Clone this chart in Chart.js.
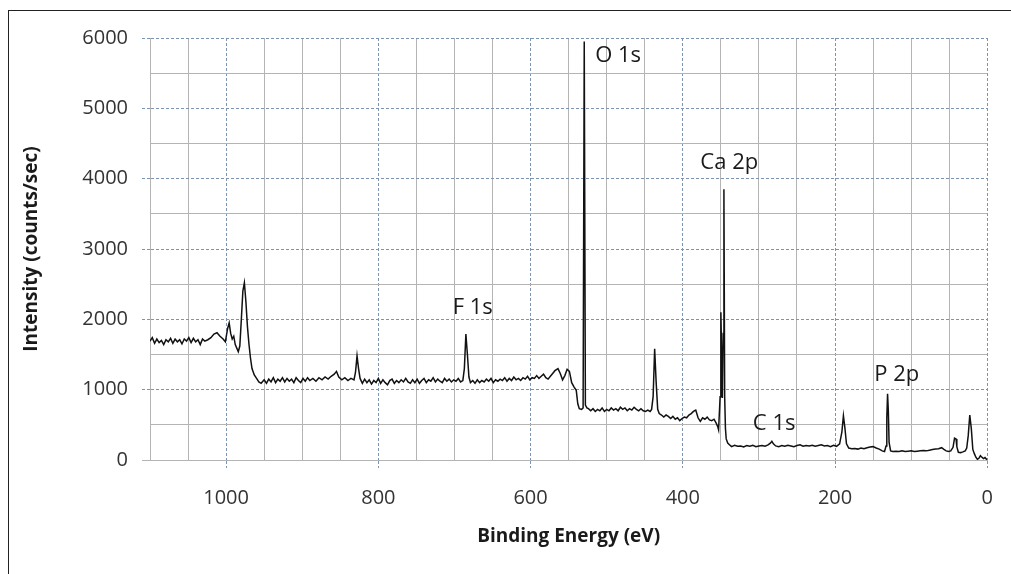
<!DOCTYPE html>
<html>
<head>
<meta charset="utf-8">
<script src="https://cdn.jsdelivr.net/npm/chart.js@4.4.1/dist/chart.umd.min.js"></script>
<style>
  html, body { margin: 0; padding: 0; background: #fff; overflow: hidden; }
  #frame { position: absolute; left: 8px; top: 10px; width: 1100px; height: 700px;
           border-left: 1px solid #222; border-top: 1px solid #222; }
  #wrap { position: absolute; left: 0; top: 0; width: 1011px; height: 574px; }
</style>
</head>
<body>
<div id="frame"></div>
<div id="wrap"><canvas id="xpsChart"></canvas></div>
<script>
// XPS survey spectrum, [binding energy (eV), intensity (counts/sec)]
const highEnergyRegion = [
  [1100, 1690], [1097, 1740], [1094, 1660], [1091, 1720], [1088, 1670], [1085, 1700],
  [1082, 1640], [1079, 1710], [1076, 1680], [1073, 1730], [1070, 1660], [1067, 1720],
  [1064, 1680], [1061, 1710], [1058, 1650], [1055, 1720], [1052, 1690], [1049, 1740],
  [1046, 1670], [1043, 1730], [1040, 1680], [1037, 1710], [1034, 1640], [1031, 1720],
  [1028, 1690], [1024, 1710], [1020, 1740], [1016, 1790], [1012, 1810], [1008, 1760],
  [1004, 1720], [1001, 1680], [998, 1870], [996, 1950], [994, 1800], [992, 1720],
  [990, 1760], [988, 1640], [986, 1590], [984, 1540], [982, 1620], [980, 2000],
  [978, 2400], [976, 2520], [974, 2250], [972, 1900], [970, 1650], [968, 1450],
  [966, 1300], [963, 1210], [960, 1160], [957, 1110], [954, 1090]
];

const fluorineRegion = [
  [950, 1140], [947, 1090], [944, 1150], [941, 1110], [938, 1170], [935, 1100],
  [932, 1150], [929, 1120], [926, 1170], [923, 1110], [920, 1160], [917, 1120],
  [914, 1150], [911, 1100], [908, 1170], [905, 1130], [902, 1100], [899, 1160],
  [896, 1120], [893, 1170], [890, 1130], [886, 1160], [882, 1120], [878, 1170],
  [874, 1140], [870, 1180], [866, 1150], [862, 1190], [858, 1220], [855, 1260],
  [852, 1180], [848, 1140], [844, 1170], [840, 1130], [836, 1160], [832, 1140],
  [830, 1250], [828, 1480], [826, 1300], [824, 1160], [821, 1090], [818, 1150],
  [815, 1100], [812, 1140], [809, 1080], [806, 1130], [803, 1100], [800, 1160],
  [797, 1090], [794, 1140], [791, 1100], [788, 1070], [785, 1130], [782, 1150],
  [779, 1090], [776, 1130], [773, 1100], [770, 1140], [767, 1110], [764, 1160],
  [761, 1110], [758, 1090], [755, 1140], [752, 1100], [749, 1150], [746, 1090],
  [743, 1130], [740, 1160], [737, 1100], [734, 1140], [731, 1120], [728, 1170],
  [725, 1110], [722, 1150], [719, 1120], [716, 1100], [713, 1160], [710, 1120],
  [707, 1150], [704, 1110], [701, 1140], [698, 1120], [695, 1160], [692, 1110],
  [689, 1130], [687, 1300], [685, 1790], [683, 1500], [681, 1180], [679, 1100],
  [676, 1130]
];

const oxygenRegion = [
  [673, 1090], [670, 1140], [667, 1100], [664, 1130], [661, 1110], [658, 1150],
  [655, 1120], [652, 1160], [649, 1100], [646, 1140], [643, 1120], [640, 1150],
  [637, 1130], [634, 1170], [631, 1120], [628, 1160], [625, 1130], [622, 1180],
  [619, 1140], [616, 1160], [613, 1130], [610, 1170], [607, 1150], [604, 1190],
  [601, 1140], [598, 1170], [595, 1160], [592, 1200], [589, 1160], [586, 1190],
  [583, 1220], [580, 1170], [577, 1150], [574, 1190], [571, 1230], [568, 1270],
  [564, 1300], [561, 1230], [558, 1140], [555, 1200], [552, 1290], [549, 1260],
  [546, 1100], [543, 1040], [540, 990], [538, 800], [536, 730], [533, 720],
  [531, 740], [529.5, 5950], [528, 780], [526, 740], [524, 730],
  [521, 700], [518, 730], [515, 690], [512, 720], [509, 700], [506, 740],
  [503, 690], [500, 720], [497, 700], [494, 740], [491, 710], [488, 730],
  [485, 700], [482, 750], [479, 720], [476, 740], [473, 700], [470, 730],
  [467, 710], [464, 750], [461, 720], [458, 700], [455, 730], [452, 700],
  [449, 690], [446, 710], [443, 690], [441, 720]
];

const calciumRegion = [
  [439, 900], [437, 1580], [435, 1100], [433, 720], [431, 660], [428, 640],
  [425, 610], [422, 640], [419, 620], [416, 590], [413, 620], [410, 580],
  [407, 600], [404, 560], [401, 590], [398, 610], [395, 600], [392, 640],
  [389, 660], [386, 690], [383, 710], [380, 600], [377, 550], [374, 600],
  [371, 580], [368, 610], [365, 570], [362, 560], [359, 580], [356, 520],
  [354, 470], [353, 430], [351, 900], [350, 2100], [349, 1500], [348, 880],
  [347, 1800], [346, 3850], [345, 900], [344, 450], [343, 300], [341, 240],
  [338, 210]
];

const lowEnergyRegion = [
  [336, 190], [332, 210], [328, 195], [324, 200], [320, 185], [316, 205],
  [312, 195], [308, 210], [304, 190], [300, 200], [296, 205], [292, 195],
  [288, 215], [285, 240], [283, 265], [281, 230], [278, 200], [274, 190],
  [270, 205], [266, 195], [262, 210], [258, 200], [254, 190], [250, 205],
  [246, 215], [242, 195], [238, 205], [234, 200], [230, 210], [226, 195],
  [222, 205], [218, 215], [214, 200], [210, 205], [206, 190], [202, 210],
  [198, 195], [194, 230], [191, 400], [189, 630], [187, 450], [185, 230],
  [182, 170], [178, 160], [174, 165], [170, 155], [166, 170], [162, 160],
  [158, 175], [154, 185], [150, 190], [146, 170], [142, 155], [138, 130],
  [135, 120], [133, 200], [132, 600], [131, 940], [130, 700], [129, 250],
  [127, 130], [124, 120], [120, 125], [116, 120], [112, 130], [108, 120],
  [104, 125], [100, 130], [96, 120], [92, 125], [88, 130], [84, 135],
  [80, 130], [76, 140], [72, 150], [68, 155], [64, 160], [60, 175],
  [57, 150], [54, 130], [51, 120], [48, 130], [45, 180], [43, 310],
  [41, 300], [40, 190], [38, 110], [35, 105], [32, 115], [29, 130],
  [27, 170], [25, 350], [23, 640], [21, 450], [19, 150], [17, 90],
  [15, 40], [13, 10], [11, 25], [9, 60], [7, 40], [5, 20],
  [3, 35], [1, 10], [0, 5]
];

// peak labels placed in data coordinates
const peakLabels = ['O 1s', 'Ca 2p', 'F 1s', 'C 1s', 'P 2p'];
const labelEnergy = [485, 339, 676, 280, 119];
const labelCounts = [5745, 4220, 2160, 520, 1215];

const xTicksEvery = 200;
const yTicksEvery = 1000;

const spectrum = [].concat(highEnergyRegion, fluorineRegion, oxygenRegion, calciumRegion, lowEnergyRegion)
  .map(p => ({ x: p[0], y: p[1] }));

const FONT = "'Open Sans', 'DejaVu Sans', sans-serif";
const MAJOR = '#7d93b2';
const MINOR = '#b4b4b4';

function isMajor(ctx, every) {
  return ctx.tick && ctx.tick.value % every === 0;
}

const peakLabelPlugin = {
  id: 'peakLabels',
  afterDatasetsDraw(chart) {
    const c = chart.ctx;
    const xs = chart.scales.x, ys = chart.scales.y;
    c.save();
    c.font = "22px " + FONT;
    c.fillStyle = '#1a1a1a';
    c.textAlign = 'center';
    c.textBaseline = 'middle';
    peakLabels.forEach((t, i) => {
      c.fillText(t, xs.getPixelForValue(labelEnergy[i]), ys.getPixelForValue(labelCounts[i]));
    });
    c.restore();
  }
};

new Chart(document.getElementById('xpsChart'), {
  type: 'line',
  data: {
    datasets: [{
      label: 'Survey',
      data: spectrum,
      borderColor: '#111',
      borderWidth: 1.5,
      pointRadius: 0,
      tension: 0,
      fill: false
    }]
  },
  options: {
    responsive: true,
    maintainAspectRatio: false,
    animation: false,
    layout: { padding: { top: 38, right: 23, left: 0, bottom: 0 } },
    plugins: {
      legend: { display: false },
      tooltip: { enabled: false }
    },
    scales: {
      x: {
        type: 'linear',
        reverse: true,
        min: 0,
        max: 1100,
        afterFit: function(scale) { scale.height = 114; },
        ticks: {
          stepSize: 50,
          autoSkip: false,
          maxRotation: 0,
          padding: 18,
          color: '#333',
          font: { family: FONT, size: 20 },
          callback: function(v) { return v % xTicksEvery === 0 ? String(v) : ''; }
        },
        grid: {
          lineWidth: 1,
          tickLength: 8,
          color: ctx => isMajor(ctx, xTicksEvery) ? MAJOR : MINOR,
          tickColor: ctx => isMajor(ctx, xTicksEvery) ? MAJOR : 'rgba(0,0,0,0)',
          tickBorderDash: ctx => isMajor(ctx, xTicksEvery) ? [3, 2] : []
        },
        border: {
          display: true,
          color: MINOR,
          width: 1,
          dash: ctx => isMajor(ctx, xTicksEvery) ? [3, 2] : []
        },
        title: {
          display: true,
          text: 'Binding Energy (eV)',
          color: '#1a1a1a',
          font: { family: FONT, size: 19, weight: 'bold' },
          padding: { top: 0, bottom: 26 }
        }
      },
      y: {
        min: 0,
        max: 6000,
        afterFit: function(scale) { scale.width = 150; },
        ticks: {
          stepSize: 500,
          autoSkip: false,
          padding: 14,
          color: '#333',
          font: { family: FONT, size: 20 },
          callback: function(v) { return v % yTicksEvery === 0 ? String(v) : ''; }
        },
        grid: {
          lineWidth: 1,
          tickLength: 8,
          color: ctx => (isMajor(ctx, yTicksEvery) && ctx.tick.value !== 0) ? MAJOR : MINOR,
          tickColor: ctx => isMajor(ctx, yTicksEvery) ? (ctx.tick.value === 0 ? MINOR : MAJOR) : 'rgba(0,0,0,0)',
          tickBorderDash: ctx => (isMajor(ctx, yTicksEvery) && ctx.tick.value !== 0) ? [3, 2] : []
        },
        border: {
          display: true,
          color: MINOR,
          width: 1,
          dash: ctx => (isMajor(ctx, yTicksEvery) && ctx.tick.value !== 0) ? [3, 2] : []
        },
        title: {
          display: true,
          text: 'Intensity (counts/sec)',
          color: '#1a1a1a',
          font: { family: FONT, size: 19, weight: 'bold' },
          padding: { top: 20, bottom: 0 }
        }
      }
    }
  },
  plugins: [peakLabelPlugin]
});
</script>
</body>
</html>
